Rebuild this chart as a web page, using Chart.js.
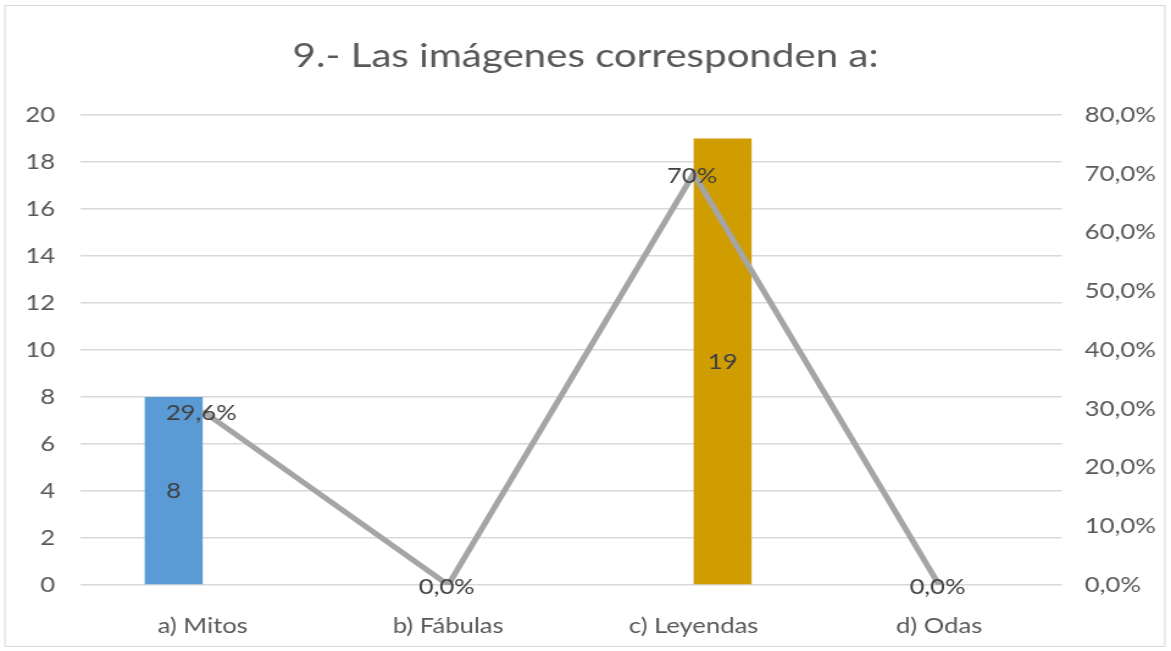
<!DOCTYPE html>
<html><head><meta charset="utf-8">
<script src="https://cdn.jsdelivr.net/npm/chart.js@4/dist/chart.umd.min.js"></script>
<style>
html,body{margin:0;padding:0;background:#fff;overflow:hidden;}
#wrap{width:1171px;height:651px;position:relative;overflow:hidden;}
#c{position:absolute;left:0;top:0;transform-origin:0 0;}
</style>
</head><body><div id="wrap"><canvas id="c"></canvas></div>
<script>
const titleText = '9.- Las imágenes corresponden a:';
const categories = ['a) Mitos', 'b) Fábulas', 'c) Leyendas', 'd) Odas'];
const barSeriesA = [8, null, null, null];
const barSeriesB = [null, null, 19, null];
const pctValues = [29.6, 0, 70, 0];
const pctLabels = ['29,6%', '0,0%', '70%', '0,0%'];

// horizontal stretch of the original (text in the picture is widened)
const S = 1.22;
const W = Math.round(1171 / S), H = 651;
const cv = document.getElementById('c');
cv.width = W; cv.height = H;
cv.style.width = W + 'px'; cv.style.height = H + 'px';
cv.style.transform = 'scaleX(' + (1171 / W) + ')';

const FONT = 'Lato, "Open Sans", sans-serif';
const TXT = '#595959';
const FS = 21;

const labelsPlugin = {
  id: 'lbls',
  beforeDraw(chart) {
    const ctx = chart.ctx;
    ctx.save();
    ctx.fillStyle = '#fff';
    ctx.fillRect(0, 0, chart.width, chart.height);
    ctx.strokeStyle = '#d9d9d9';
    ctx.lineWidth = 1;
    ctx.strokeRect(5 / S, 5.5, 1160 / S, 641);
    ctx.restore();
  },
  afterDatasetsDraw(chart) {
    const ctx = chart.ctx;
    ctx.save();
    ctx.font = FS + 'px ' + FONT;
    ctx.textAlign = 'center';
    ctx.textBaseline = 'middle';
    ctx.fillStyle = '#404040';
    chart.data.datasets.forEach((ds, i) => {
      const meta = chart.getDatasetMeta(i);
      meta.data.forEach((el, j) => {
        const v = ds.data[j];
        if (v === null || v === undefined) return;
        if (ds.type === 'line') {
          ctx.fillText(pctLabels[j], el.x - 1.5 / S, el.y + 2);
        } else {
          ctx.fillText(String(v), el.x, (el.y + el.base) / 2 + 1);
        }
      });
    });
    ctx.restore();
  }
};

new Chart(cv, {
  data: {
    labels: categories,
    datasets: [
      { type: 'line', data: pctValues, yAxisID: 'yR', borderColor: '#A5A5A5', borderWidth: 5,
        pointRadius: 0, tension: 0, order: 0 },
      { type: 'bar', data: barSeriesA, yAxisID: 'y', backgroundColor: '#5B9BD5', order: 1,
        barPercentage: 1, categoryPercentage: 0.4725 },
      { type: 'bar', data: barSeriesB, yAxisID: 'y', backgroundColor: '#CF9D00', order: 1,
        barPercentage: 1, categoryPercentage: 0.4725 }
    ]
  },
  options: {
    responsive: false,
    animation: false,
    devicePixelRatio: 1,
    layout: { padding: 0 },
    plugins: {
      legend: { display: false },
      tooltip: { enabled: false },
      title: { display: true, text: titleText, color: TXT,
        font: { family: FONT, size: 33, weight: 'normal' }, padding: { top: 37, bottom: 38.4 } }
    },
    scales: {
      x: {
        grid: { display: false },
        border: { display: false },
        ticks: { color: TXT, font: { family: FONT, size: FS }, padding: 21, maxRotation: 0 },
        afterFit(s) { s.height = 66; }
      },
      y: {
        position: 'left', min: 0, max: 20,
        ticks: { stepSize: 2, color: TXT, font: { family: FONT, size: FS }, padding: 25 / S },
        grid: { color: '#d9d9d9', lineWidth: 1.5, drawTicks: false },
        border: { display: false },
        afterFit(s) { s.width = 80 / S; }
      },
      yR: {
        position: 'right', min: 0, max: 80,
        ticks: { stepSize: 10, color: TXT, font: { family: FONT, size: FS }, padding: 23 / S,
          callback: v => v.toFixed(1).replace('.', ',') + '%' },
        grid: { display: false, drawTicks: false },
        border: { display: false },
        afterFit(s) { s.width = W - 1062 / S; }
      }
    }
  },
  plugins: [labelsPlugin]
});
</script></body></html>
